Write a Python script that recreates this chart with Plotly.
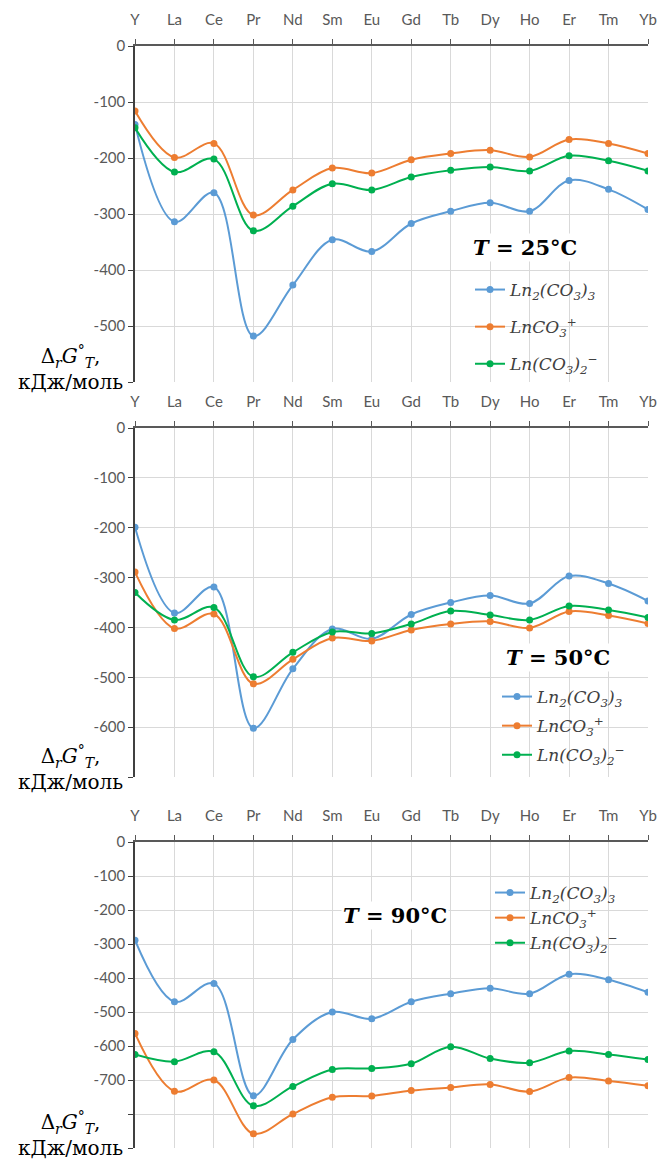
import plotly.graph_objects as go

W, H = 662, 1162

elements = ["Y", "La", "Ce", "Pr", "Nd", "Sm", "Eu", "Gd", "Tb", "Dy", "Ho", "Er", "Tm", "Yb"]

series_names = ["Ln<sub>2</sub>(CO<sub>3</sub>)<sub>3</sub>",
                "LnCO<sub>3</sub><sup>+</sup>",
                "Ln(CO<sub>3</sub>)<sub>2</sub><sup>−</sup>"]
colors = ["#5B9BD5", "#ED7D31", "#00B050"]

# T = 25 °C
ln2co33_25 = [-140, -314, -262, -518, -427, -346, -367, -317, -295, -280, -295, -240, -256, -292]
lnco3_25 = [-116, -199, -174, -302, -257, -218, -227, -203, -192, -186, -198, -167, -174, -192]
lnco32_25 = [-146, -225, -202, -330, -286, -246, -257, -234, -222, -216, -223, -196, -205, -223]

# T = 50 °C
ln2co33_50 = [-199, -371, -319, -602, -483, -403, -423, -374, -350, -336, -352, -297, -312, -347]
lnco3_50 = [-289, -402, -373, -513, -464, -421, -427, -405, -393, -388, -401, -368, -376, -392]
lnco32_50 = [-330, -385, -360, -499, -450, -409, -412, -393, -367, -375, -385, -357, -365, -380]

# T = 90 °C
ln2co33_90 = [-289, -470, -416, -746, -581, -500, -520, -470, -446, -430, -446, -389, -405, -442]
lnco3_90 = [-563, -733, -700, -858, -800, -751, -747, -731, -722, -713, -734, -693, -703, -717]
lnco32_90 = [-625, -646, -617, -776, -719, -669, -666, -652, -602, -637, -649, -615, -625, -640]

panels = [
    dict(data=[ln2co33_25, lnco3_25, lnco32_25], title="<b><i>T</i> = 25°C</b>",
         ymin=-600, ticks=[0, -100, -200, -300, -400, -500, -600], hidden=[-600],
         top=46, bottom=382, tpos=(525, 247), leg=(470, 272), gap=12, lab=(70, 340)),
    dict(data=[ln2co33_50, lnco3_50, lnco32_50], title="<b><i>T</i> = 50°C</b>",
         ymin=-700, ticks=[0, -100, -200, -300, -400, -500, -600, -700], hidden=[-700],
         top=428, bottom=777, tpos=(558, 657), leg=(497, 679), gap=4, lab=(70, 740)),
    dict(data=[ln2co33_90, lnco3_90, lnco32_90], title="<b><i>T</i> = 90°C</b>",
         ymin=-900, ticks=[0, -100, -200, -300, -400, -500, -600, -700, -800, -900], hidden=[-800, -900],
         top=842, bottom=1148, tpos=(395, 915), leg=(490, 875), gap=0, lab=(70, 1106)),
]

tick_font = dict(family="Lato, Open Sans, sans-serif", size=15, color="#595959")
serif = "DejaVu Serif, Liberation Serif, serif"

fig = go.Figure()
left_px, right_px = 135, 648
annotations = []
for i, p in enumerate(panels):
    sfx = "" if i == 0 else str(i + 1)
    xa, ya = "x" + sfx, "y" + sfx
    legend_id = "legend" + sfx
    for j, (vals, name, col) in enumerate(zip(p["data"], series_names, colors)):
        fig.add_trace(go.Scatter(
            x=elements, y=vals, name=name, mode="lines+markers",
            line=dict(color=col, width=2, shape="spline", smoothing=1),
            marker=dict(color=col, size=7),
            xaxis=xa, yaxis=ya, legend=legend_id, legendgroup=f"g{i}{j}"))
    ydom = [1 - p["bottom"] / H, 1 - p["top"] / H]
    fig.update_layout(**{
        "xaxis" + sfx: dict(domain=[left_px / W, right_px / W], anchor=ya, side="top",
                            type="category", range=[0, 13], showgrid=True, gridcolor="#D9D9D9",
                            showline=True, linecolor="#595959", linewidth=1.5,
                            ticks="outside", ticklen=5, tickcolor="#595959",
                            ticklabelstandoff=8, tickfont=tick_font, zeroline=False,
                            automargin=False),
        "yaxis" + sfx: dict(domain=ydom, anchor=xa, range=[p["ymin"], 0],
                            tickvals=p["ticks"],
                            ticktext=["" if t in p["hidden"] else str(t) for t in p["ticks"]],
                            showgrid=True, gridcolor="#D9D9D9", zeroline=False,
                            showline=True, linecolor="#404040", linewidth=1.5,
                            ticks="outside", ticklen=5, tickcolor="#404040",
                            tickfont=tick_font, automargin=False),
        legend_id: dict(x=p["leg"][0] / W, y=1 - p["leg"][1] / H, xanchor="left", yanchor="top",
                        bgcolor="rgba(255,255,255,0)", traceorder="grouped",
                        tracegroupgap=p["gap"], itemwidth=30,
                        font=dict(family=serif, size=17, color="#404040", style="italic")),
    })
    annotations.append(dict(x=p["tpos"][0] / W, y=1 - p["tpos"][1] / H, xref="paper", yref="paper",
                            xanchor="center", yanchor="middle",
                            text=p["title"], showarrow=False, bgcolor="white",
                            font=dict(family=serif, size=21, color="#000000")))
    annotations.append(dict(x=p["lab"][0] / W, y=1 - p["lab"][1] / H, xref="paper", yref="paper",
                            xanchor="center", yanchor="top",
                            text="Δ<sub><i>r</i></sub><i>G</i><sup>°</sup><sub><i>T</i></sub>,<br>кДж/моль",
                            showarrow=False, bgcolor="white", align="center",
                            font=dict(family=serif, size=20, color="#000000")))

fig.update_layout(width=W, height=H, margin=dict(l=0, r=0, t=0, b=0),
                  paper_bgcolor="white", plot_bgcolor="white",
                  annotations=annotations)

fig.write_html("out.html", config={"displayModeBar": False},
               post_script="document.body.style.margin='0';")
